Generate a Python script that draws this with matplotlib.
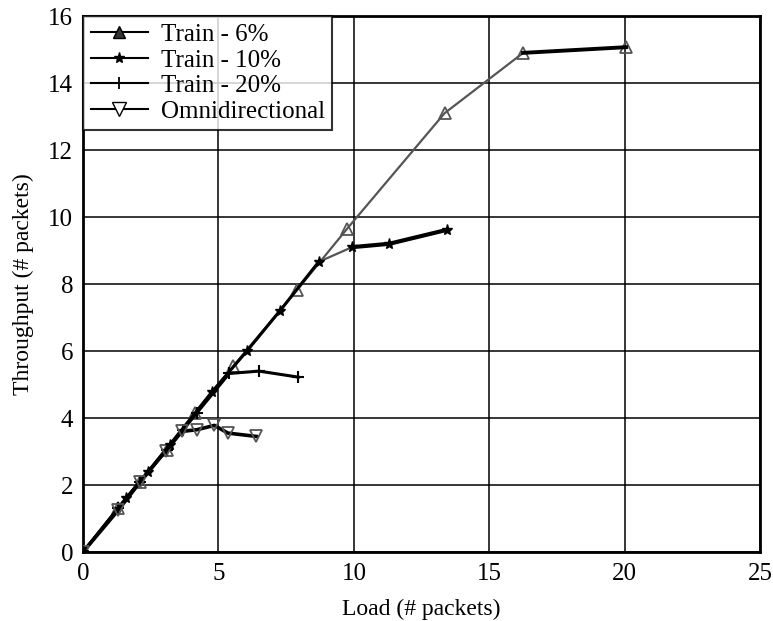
import matplotlib
matplotlib.use('Agg')
import matplotlib.pyplot as plt

plt.rcParams['font.family'] = ['Liberation Serif', 'DejaVu Serif']

# Data
train6_x = [0, 1.3, 2.1, 3.1, 4.15, 5.55, 7.9, 9.75, 13.35, 16.25, 20.05]
train6_y = [0, 1.3, 2.08, 3.05, 4.15, 5.55, 7.82, 9.65, 13.1, 14.9, 15.07]

train10_x = [0, 1.6, 2.4, 3.2, 4.75, 6.05, 7.27, 8.7, 9.93, 11.3, 13.45]
train10_y = [0, 1.62, 2.4, 3.2, 4.77, 6.0, 7.2, 8.66, 9.1, 9.2, 9.62]

train20_x = [0, 1.3, 2.1, 3.1, 3.7, 4.2, 5.4, 6.5, 7.95]
train20_y = [0, 1.3, 2.1, 3.05, 3.65, 4.15, 5.33, 5.4, 5.22]

omni_x = [0, 1.3, 2.1, 3.05, 3.65, 4.2, 4.85, 5.35, 6.4]
omni_y = [0, 1.25, 2.08, 3.02, 3.6, 3.65, 3.78, 3.55, 3.45]

x_ticks = [0, 5, 10, 15, 20, 25]
y_ticks = [0, 2, 4, 6, 8, 10, 12, 14, 16]

fig = plt.figure(figsize=(7.73, 6.21), dpi=100)
ax = fig.add_axes([0.1074, 0.1111, 0.876, 0.8631])

gray = '#555555'

# Train 6%: thin gray line, last segment heavy black
ax.plot(train6_x, train6_y, color=gray, linewidth=1.6, marker='^',
        markersize=8, markerfacecolor='none', markeredgecolor=gray,
        markeredgewidth=1.3, zorder=3)
ax.plot(train6_x[-2:], train6_y[-2:], color='black', linewidth=2.8, zorder=3)

# Train 10%: gray up to 8.7, then heavy black
ax.plot(train10_x, train10_y, color=gray, linewidth=1.6, zorder=3)
ax.plot(train10_x[:8], train10_y[:8], color='black', linewidth=2.2, zorder=4)
ax.plot(train10_x[8:], train10_y[8:], color='black', linewidth=3, zorder=4)
ax.plot(train10_x, train10_y, linestyle='none', marker='*', markersize=8,
        color='black', zorder=5)

ax.plot(train20_x, train20_y, color='black', linewidth=2.2, marker='+',
        markersize=9, markeredgewidth=1.5, zorder=4)

ax.plot(omni_x, omni_y, color='black', linewidth=2.6, marker='v',
        markersize=8, markerfacecolor='none', markeredgecolor=gray,
        markeredgewidth=1.3, zorder=4)

# legend proxies (black lines)
h6, = ax.plot([], [], color='black', linewidth=1.5, marker='^', markersize=9,
              markerfacecolor='#333333', markeredgecolor='black')
h10, = ax.plot([], [], color='black', linewidth=1.5, marker='*', markersize=8)
h20, = ax.plot([], [], color='black', linewidth=1.5, marker='+', markersize=9,
               markeredgewidth=1.3)
ho, = ax.plot([], [], color='black', linewidth=1.5, marker='v', markersize=10,
              markerfacecolor='white', markeredgecolor='black')

leg = ax.legend([h6, h10, h20, ho],
                ['Train - 6%', 'Train - 10%', 'Train - 20%', 'Omnidirectional'],
                loc='upper left', fontsize=18, frameon=True, fancybox=False,
                borderaxespad=0, handlelength=2.3, labelspacing=0.12,
                handletextpad=0.5, borderpad=0.3)
leg.get_frame().set_edgecolor('black')
leg.get_frame().set_linewidth(1.5)
leg.set_zorder(10)

ax.set_xlim(0, 25)
ax.set_ylim(0, 16)
ax.set_xticks(x_ticks)
ax.set_yticks(y_ticks)
ax.grid(True, color='black', linewidth=1.1)
ax.set_axisbelow(True)
ax.tick_params(axis='x', length=0, labelsize=18, pad=8)
ax.tick_params(axis='y', length=0, labelsize=18, pad=7)

for s in ax.spines.values():
    s.set_linewidth(2)
    s.set_color('black')

ax.set_xlabel('Load (# packets)', fontsize=17, labelpad=10)
ax.set_ylabel('Throughput (# packets)', fontsize=17, labelpad=10)

fig.savefig('out.png', dpi=100)
